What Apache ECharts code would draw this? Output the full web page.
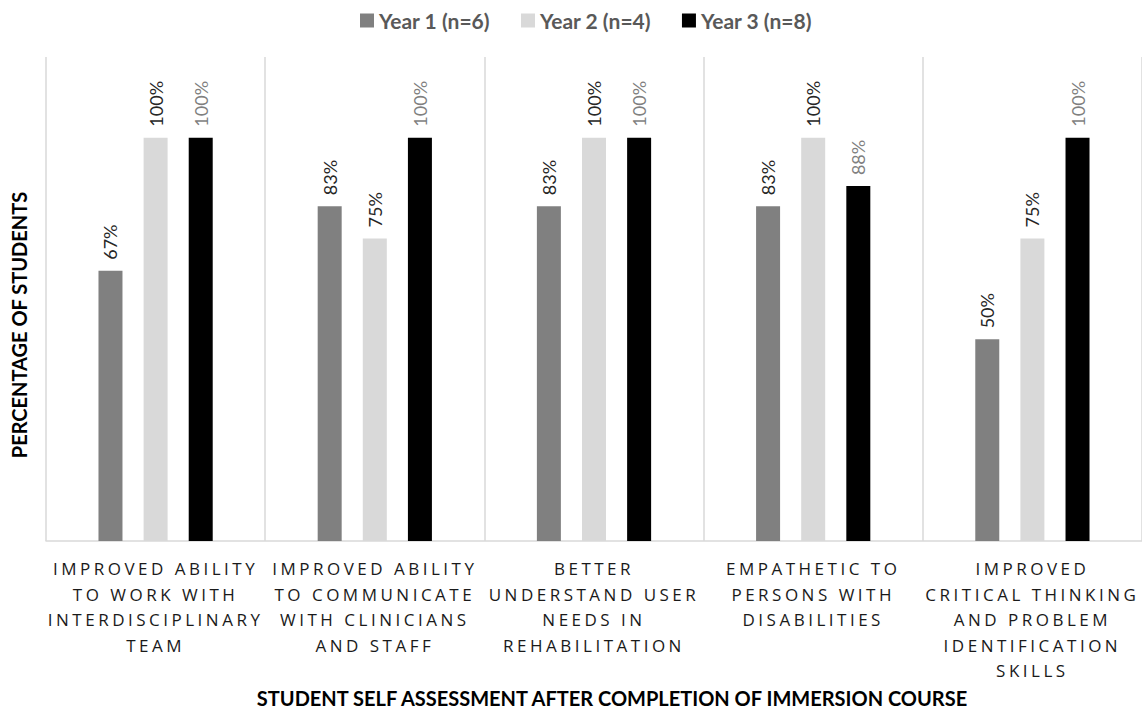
<!DOCTYPE html>
<html>
<head>
<meta charset="utf-8">
<script src="https://cdn.jsdelivr.net/npm/echarts@6/dist/echarts.min.js"></script>
<style>
  html, body { margin: 0; padding: 0; background: #fff; }
  #chart { width: 1142px; height: 711px; }
  /* category labels are letter-spaced in the original */
  #chart text[style*="Open Sans"], #chart text[font-family*="Open Sans"] { letter-spacing: 3.5px; }
</style>
</head>
<body>
<div id="chart"></div>
<script>
const categories = [
  'IMPROVED ABILITY\nTO WORK WITH\nINTERDISCIPLINARY\nTEAM',
  'IMPROVED ABILITY\nTO COMMUNICATE\nWITH CLINICIANS\nAND STAFF',
  'BETTER\nUNDERSTAND USER\nNEEDS IN\nREHABILITATION',
  'EMPATHETIC TO\nPERSONS WITH\nDISABILITIES',
  'IMPROVED\nCRITICAL THINKING\nAND PROBLEM\nIDENTIFICATION\nSKILLS'
]
const seriesNames = ['Year 1 (n=6)', 'Year 2 (n=4)', 'Year 3 (n=8)']
const year1 = [67, 83, 83, 83, 50]
const year2 = [100, 75, 100, 100, 75]
const year3 = [100, 100, 100, 88, 100]

const barColors = ['#808080', '#d9d9d9', '#000000']
const labelColors = ['#262626', '#262626', '#7f7f7f']

let chart = echarts.init(document.getElementById('chart'), null, {renderer: 'svg'})

function makeSeries (name, data, i) {
  return {
    name: name,
    type: 'bar',
    data: data,
    barWidth: 24,
    barGap: '88%',
    itemStyle: {color: barColors[i]},
    label: {
      show: true,
      position: 'top',
      distance: 11,
      rotate: 90,
      align: 'left',
      verticalAlign: 'middle',
      formatter: '{c}%',
      fontFamily: 'Lato',
      fontSize: 18,
      color: labelColors[i]
    }
  }
}

let option = {
  animation: false,
  legend: {
    data: seriesNames,
    left: 355,
    top: 5,
    icon: 'rect',
    itemWidth: 14,
    itemHeight: 14,
    itemGap: 31,
    textStyle: {fontFamily: 'Lato', fontWeight: 'bold', fontSize: 21, color: '#595959'}
  },
  grid: {left: 46, right: 0, top: 57, bottom: 170, outerBoundsMode: 'none'},
  xAxis: {
    type: 'category',
    data: categories,
    axisLine: {lineStyle: {color: '#d9d9d9', width: 1.5}},
    axisTick: {show: false},
    splitLine: {show: true, interval: 0, lineStyle: {color: '#d9d9d9', width: 1.5}},
    axisLabel: {
      interval: 0,
      margin: 15,
      fontFamily: 'Open Sans',
      fontSize: 17,
      lineHeight: 25.5,
      color: '#1a1a1a'
    },
    name: 'STUDENT SELF ASSESSMENT AFTER COMPLETION OF IMMERSION COURSE',
    nameLocation: 'middle',
    nameGap: 145,
    nameTextStyle: {fontFamily: 'Lato', fontWeight: 'bold', fontSize: 20, color: '#000', padding: [0, 0, 0, 36]}
  },
  yAxis: {
    type: 'value',
    min: 0,
    max: 120,
    axisLine: {show: false},
    axisTick: {show: false},
    axisLabel: {show: false},
    splitLine: {show: false},
    name: 'PERCENTAGE OF STUDENTS',
    nameLocation: 'middle',
    nameGap: 17,
    nameTextStyle: {fontFamily: 'Lato', fontWeight: 'bold', fontSize: 20, color: '#000', padding: [0, 52, 0, 0]}
  },
  series: [
    makeSeries(seriesNames[0], year1, 0),
    makeSeries(seriesNames[1], year2, 1),
    makeSeries(seriesNames[2], year3, 2)
  ]
}
chart.setOption(option)
</script>
</body>
</html>
